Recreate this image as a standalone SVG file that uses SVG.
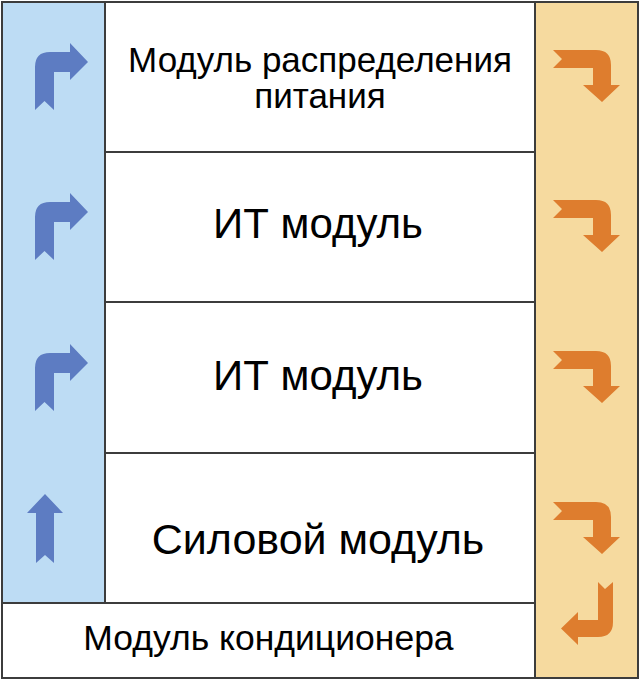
<svg xmlns="http://www.w3.org/2000/svg" width="640" height="681" viewBox="0 0 640 681">
<style>
.box{stroke:#3c3c3c;stroke-width:2}
.white{fill:#ffffff}
.blue{fill:#bddcf4}
.orange{fill:#f6da9f}
.ba{fill:#5d7cc2}
.oa{fill:#de7d2e}
text{font-family:"Liberation Sans",Arial,sans-serif;fill:#000;text-anchor:middle}
.t1{font-size:35px}
.t3{font-size:35.5px}
.t2{font-size:42px}
.t4{font-size:43px}
</style>
<defs>
<path id="bentUp" d="M35,110 L35,67 Q35,52 50,52 L70,52 L70,43 L88,62 L70,80 L70,72 L54,72 L54,110 L44.5,101 Z"/>
<path id="bentDown" d="M553,50 L596,50 Q611,50 611,65 L611,85 L620,85 L602,102 L583,85 L593,85 L593,68 L553,68 L562,59 Z"/>
</defs>
<rect x="0" y="0" width="640" height="681" fill="#ffffff"/>
<g id="left-panel">
<rect class="box blue" x="2" y="2" width="103" height="601"/>
<use href="#bentUp" class="ba"/>
<use href="#bentUp" class="ba" y="150"/>
<use href="#bentUp" class="ba" y="301"/>
<path class="ba" d="M45,494 L63,513 L54,513 L54,563 L45,555 L36,563 L36,513 L27,513 Z"/>
</g>
<g id="right-panel">
<rect class="box orange" x="535" y="2" width="103" height="676"/>
<use href="#bentDown" class="oa"/>
<use href="#bentDown" class="oa" y="150"/>
<use href="#bentDown" class="oa" y="301"/>
<use href="#bentDown" class="oa" y="452"/>
<path class="oa" d="M598,582 L605,589 L613,582 L613,622 Q613,637 598,637 L578,637 L578,645 L561,628.5 L578,612 L578,620 L598,620 Z"/>
</g>
<g id="pdu">
<rect class="box white" x="105" y="2" width="430" height="150"/>
<text class="t1" x="320" y="72">Модуль распределения</text>
<text class="t1" x="320" y="108">питания</text>
</g>
<g id="it1">
<rect class="box white" x="105" y="152" width="430" height="150"/>
<text class="t2" x="318" y="238">ИТ модуль</text>
</g>
<g id="it2">
<rect class="box white" x="105" y="302" width="430" height="151"/>
<text class="t2" x="318" y="390">ИТ модуль</text>
</g>
<g id="power">
<rect class="box white" x="105" y="453" width="430" height="150"/>
<text class="t4" x="318" y="554">Силовой модуль</text>
</g>
<g id="cooling">
<rect class="box white" x="2" y="603" width="533" height="75"/>
<text class="t3" x="268.5" y="650">Модуль кондиционера</text>
</g>
<g id="connectors"></g>
</svg>
